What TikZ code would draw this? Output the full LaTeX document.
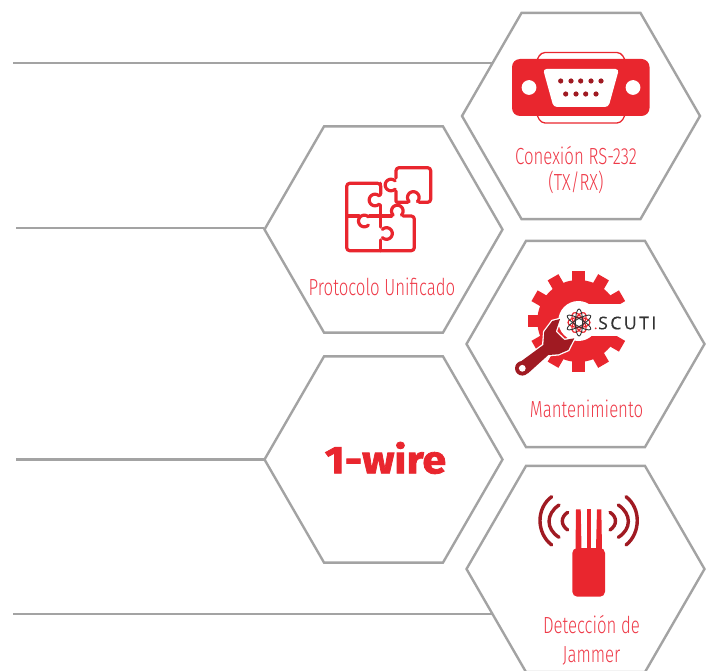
\documentclass[tikz,border=0pt]{standalone}
\usepackage{fontspec}
\usetikzlibrary{shapes.geometric}
\newfontfamily\lab[FakeStretch=0.72]{Fira Sans Light}
\newfontfamily\heavy[FakeBold=2,FakeStretch=1.11,BoldFont={}]{Fira Sans Bold}
\newfontfamily\logo[LetterSpace=14,FakeBold=0.4]{Open Sans}
\definecolor{hexgray}{HTML}{A3A3A3}
\definecolor{brandred}{HTML}{E9262E}
\definecolor{darkred}{HTML}{A01A22}
\definecolor{textred}{HTML}{EE3A48}
\definecolor{logodark}{HTML}{333333}
\tikzset{
  hexa/.style={regular polygon,regular polygon sides=6,draw=hexgray,line width=2.4pt,
    minimum size=238pt,inner sep=0pt,outer sep=0pt},
  link/.style={draw=hexgray,line width=2.4pt},
  lbl/.style={anchor=base,text=textred,inner sep=0pt,align=center,
    font={\lab\fontsize{23.3}{26}\selectfont}},
  wave/.style={draw=darkred,line width=3.4pt,line cap=round},
  puz/.style={draw=brandred,line width=3.2pt,line cap=round,line join=round}
}
\newcommand{\arcp}[5]{plot[smooth,domain=#4:#5,samples=20] ({#1+#3*cos(\x)},{#2+#3*sin(\x)})}
\begin{document}
\begin{tikzpicture}[x=1pt,y=-1pt]
\useasboundingbox (0,0) rectangle (709,671);
\clip (0,0) rectangle (709,671);
% hexagons
\node[hexa] (h1) at (581,116) {};
\node[hexa] (h2) at (383.5,229.5) {};
\node[hexa] (h3) at (585.5,344) {};
\node[hexa] (h4) at (383.5,459.5) {};
\node[hexa] (h5) at (585.5,569) {};
% connectors
\coordinate (c1) at (13,63);
\coordinate (c2) at (16,228);
\coordinate (c3) at (16,459.5);
\coordinate (c4) at (13,614);
\draw[link] (c1) -- (c1 -| h1.149);
\draw[link] (c2) -- (c2 -| h2.west);
\draw[link] (c3) -- (c3 -| h4.west);
\draw[link] (c4) -- (c4 -| h5.206);
% DB9
\draw[brandred,line width=1.3pt,rounded corners=4pt] (537,60) -- (541,52.5) -- (621,52.5) -- (625,60);
\draw[brandred,line width=1.3pt,rounded corners=4pt] (537,115) -- (541,123) -- (621,123) -- (625,115);
\fill[brandred,rounded corners=8pt] (512,59) rectangle (649.5,116);
\fill[white] (529,87.5) circle (7.4pt) (633,87.5) circle (7.4pt);
\fill[white,rounded corners=3.5pt] (543,69) -- (619,69) -- (608.5,107) -- (553.5,107) -- cycle;
\foreach \x in {560.7,571,580.7,591,601}{\fill[darkred] (\x,81) circle (2.6pt);}
\foreach \x in {565.7,576,585.7,596}{\fill[darkred] (\x,94) circle (2.6pt);}
% puzzle
\draw[puz,rounded corners=3pt] (380.7,194) -- (380.7,183.3) -- (346.7,183.3) -- (346.7,250.7) -- (414.3,250.7) -- (414.3,216) -- (403,216);
\draw[puz] (380.7,183.3) -- (380.7,195);
\draw[puz] (380.7,205) -- (380.7,227);
\draw[puz] (380.7,240) -- (380.7,250.7);
\draw[puz] (346.7,216) -- (359,216);
\draw[puz] (369.5,216) -- (391.5,216);
\draw[puz] \arcp{375}{200}{5.8}{45}{315};
\draw[puz] \arcp{364.3}{221}{5.8}{-45}{-315};
\draw[puz] \arcp{397.3}{211}{5.8}{135}{405};
\draw[puz] \arcp{386.5}{233.5}{5.8}{-135}{135};
\draw[puz,rounded corners=3pt] (396,178) -- (396,167.7) -- (430.7,167.7) -- (430.7,202.3) -- (419,202.3);
\draw[puz,rounded corners=1pt] (396,191) -- (396,202.3) -- (408,202.3);
\draw[puz] \arcp{391}{185}{5.8}{45}{315};
\draw[puz] \arcp{413.3}{197.5}{5.8}{135}{405};
% gear
\begin{scope}[shift={(578.3,321)}]
\foreach \a in {0,30,...,330}{
  \fill[brandred,rotate=\a] (-6.2,-50.5) rectangle (6.2,-35);
}
\fill[brandred] (0,0) circle (41pt);
\fill[white] (0,0) circle (20pt);
\end{scope}
\fill[white] (578.3,304) rectangle (650,335.6);
% wrench
\draw[white,line width=2.6pt,line join=round]
  (516,365) -- (543.3,345) -- (544.3,331.7) -- (552.3,321) -- (560,319) -- (555.7,331.7) -- (564.3,340) -- (574.3,338.3)
  -- (568.3,350) -- (558.3,354.3) -- (548.3,355) -- (528,373.3) -- cycle;
\fill[darkred,line join=round]
  (516,365) -- (543.3,345) -- (544.3,331.7) -- (552.3,321) -- (560,319) -- (555.7,331.7) -- (564.3,340) -- (574.3,338.3)
  -- (568.3,350) -- (558.3,354.3) -- (548.3,355) -- (528,373.3) -- cycle;
\fill[darkred] (522.3,368.3) circle (7.3pt);
\fill[white] (522.3,368.3) circle (3.4pt);
% logo atom
\begin{scope}[shift={(579,322.5)}]
\foreach \a in {0,60,120}{\draw[brandred,line width=1.2pt,rotate=\a] (0,0) ellipse (11pt and 5pt);}
\foreach \a in {30,90,150}{\draw[logodark,line width=.9pt,rotate=\a] (0,0) ellipse (13.5pt and 3.6pt);}
\end{scope}
\node[anchor=base west,inner sep=0pt,text=logodark,font={\logo\fontsize{17.6}{17.6}\selectfont}] (scuti) at (598,329.3) {SCUTI};
\fill[brandred] (595.7,328.3) circle (1pt);
% jammer
\fill[brandred,rounded corners=5pt] (572.3,548) rectangle (605,596.7);
\fill[brandred] (576,509.3) -- (580.7,509.3) -- (581.5,549) -- (575.5,549) -- cycle;
\fill[brandred] (586.7,509.3) -- (591,509.3) -- (591,549) -- (586.7,549) -- cycle;
\fill[brandred] (597,509.3) -- (601.3,509.3) -- (602,549) -- (596,549) -- cycle;
\draw[wave] (551.7,496.7) .. controls (536.1,508) and (536.1,533) .. (551.7,545);
\draw[wave] (559,505) .. controls (545.7,514) and (545.7,529) .. (559,537.3);
\draw[wave] (567.7,512.3) .. controls (560.5,517) and (560.5,525) .. (567.7,530);
\draw[wave] (626,496.7) .. controls (641,508) and (641,533) .. (626,545);
\draw[wave] (618.3,505) .. controls (631.7,514) and (631.7,529) .. (618.3,537.3);
\draw[wave] (610,512.3) .. controls (617.3,517) and (617.3,525) .. (610,530);
% labels
\node[lbl] (t1) at (576,190.7) {Conexión RS-232\\(TX/RX)};
\node[lbl] (t2) at (382,295.7) {Protocolo Unificado};
\node[lbl] (t3) at (586.5,417.3) {Mantenimiento};
\node[lbl] (t5) at (591.5,662.7) {Detección de\\[3pt]Jammer};
\node[anchor=base,inner sep=0pt,text=brandred,font={\heavy\fontsize{38.7}{38.7}\selectfont}] (t4) at (385.5,473.3) {1-wire};
\end{tikzpicture}
\end{document}
